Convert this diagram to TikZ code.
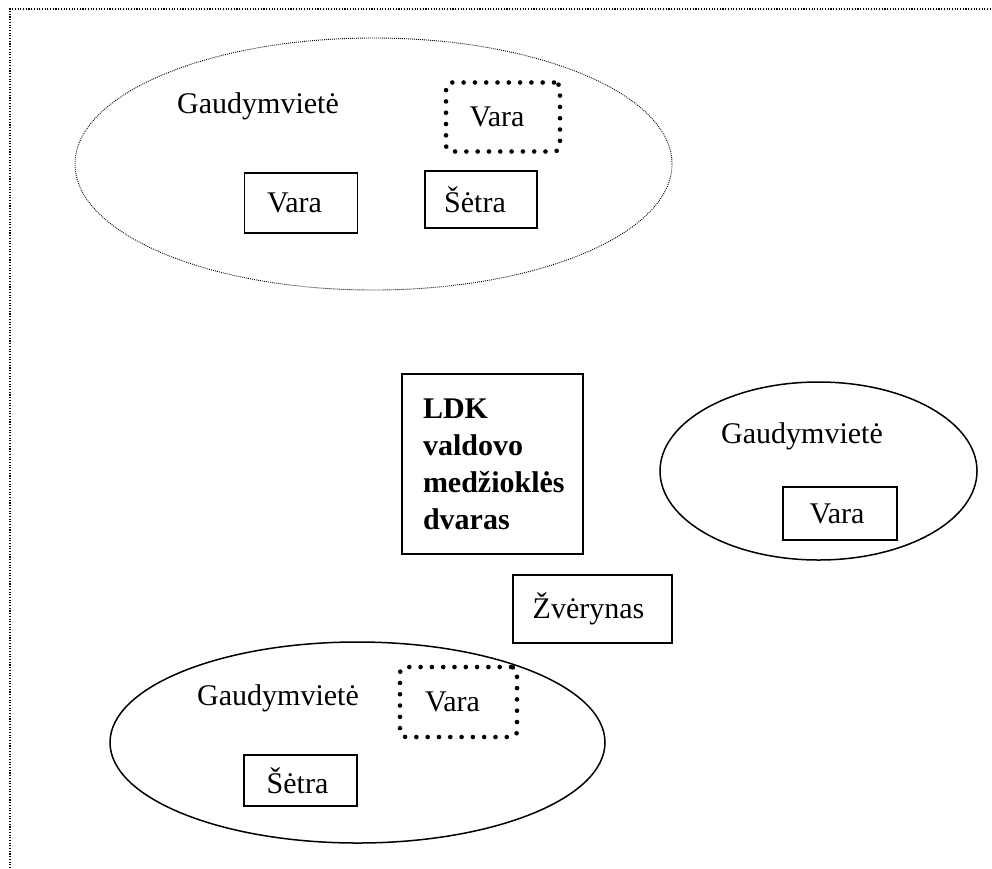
\documentclass[tikz,border=0pt]{standalone}
\usepackage{fontspec}
\setmainfont{Liberation Serif}
\usetikzlibrary{shapes.geometric}
\begin{document}
\begin{tikzpicture}[x=1pt,y=-1pt,
  every node/.style={font=\fontsize{30}{37}\selectfont},
  frameline/.style={line width=1.1pt, dash pattern=on 1.1pt off 1.6pt},
  fineoval/.style={ellipse, draw, line width=0.9pt, dash pattern=on 0.9pt off 1.1pt, inner sep=0pt},
  solidoval/.style={ellipse, draw, line width=1.5pt, inner sep=0pt},
  plainbox/.style={rectangle, draw, line width=1.3pt, inner sep=0pt},
  heavybox/.style={rectangle, draw, line width=1.9pt, inner sep=0pt},
  dotbox/.style={rectangle, draw, line width=4.6pt, line cap=round, dash pattern=on 0pt off 11.3pt, rounded corners=6pt, inner sep=0pt},
  lbl/.style={inner sep=0pt}]
\useasboundingbox (0,0) rectangle (992,868);
% frame (only top and left edges visible)
\coordinate (fbl) at (10,868);
\coordinate (ftl) at (10,9);
\coordinate (ftr) at (992,9);
\draw[frameline] (fbl) -- (ftl) -- (ftr);

% top group
\node[fineoval, minimum width=597pt, minimum height=252pt] (e1) at (373.5,164) {};
\node[lbl, anchor=base west] (g1) at (177,113) {Gaudymvietė};
\node[dotbox, minimum width=114pt, minimum height=69pt] (v1d) at (503,117) {Vara\hspace*{12pt}};
\node[plainbox, minimum width=113pt, minimum height=60pt] (v1) at (301,203) {Vara\hspace*{13pt}};
\node[plainbox, minimum width=112pt, minimum height=57pt] (s1) at (481,199.5) {Šėtra\hspace*{12pt}};

% centre
\node[heavybox, minimum width=181pt, minimum height=180pt, text width=139pt, align=left] (ldk) at (492.5,464)
  {\bfseries LDK\\valdovo\\medžioklės\\dvaras};
\node[heavybox, minimum width=159pt, minimum height=68pt] (zv) at (592.5,609) {Žvėrynas\hspace*{8pt}};

% right group
\node[solidoval, minimum width=317pt, minimum height=178pt] (e2) at (818.5,471) {};
\node[lbl, anchor=base west] (g2) at (721,443) {Gaudymvietė};
\node[plainbox, minimum width=114pt, minimum height=53pt] (v2) at (840,513.5) {Vara\hspace*{6pt}};

% bottom group
\node[solidoval, minimum width=495pt, minimum height=201pt] (e3) at (357.5,742.5) {};
\node[lbl, anchor=base west] (g3) at (197,705) {Gaudymvietė};
\node[dotbox, minimum width=117pt, minimum height=70pt] (v3d) at (458.5,702) {Vara\hspace*{12pt}};
\node[plainbox, minimum width=113pt, minimum height=51pt] (s3) at (300.5,780.5) {Šėtra\hspace*{6pt}};
\end{tikzpicture}
\end{document}
